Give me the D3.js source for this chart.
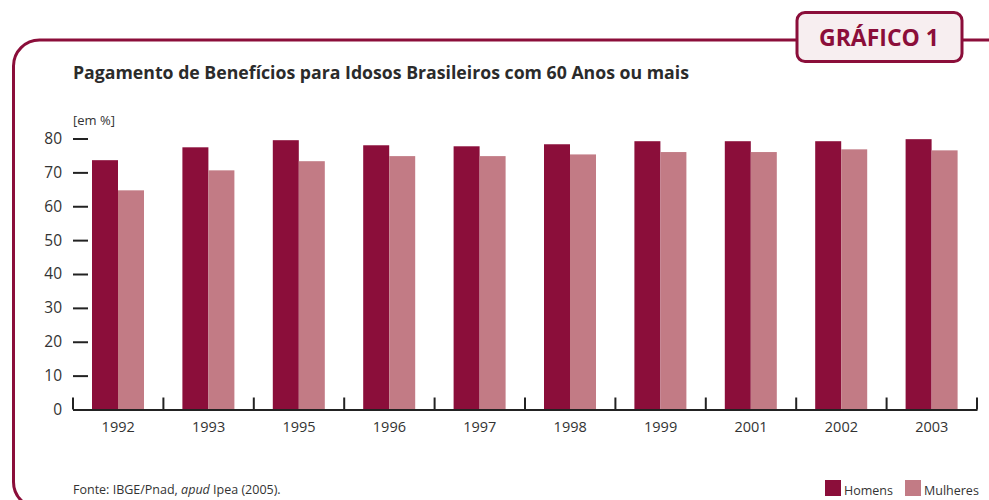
<!DOCTYPE html>
<html>
<head>
<meta charset="utf-8">
<script src="https://cdn.jsdelivr.net/npm/d3@7"></script>
<style>
  body { margin: 0; background: #fff; }
  svg text { font-family: "Open Sans", "Noto Sans", sans-serif; fill: #333; }
</style>
</head>
<body>
<svg id="chart" width="989" height="500"></svg>
<script>
// dados
var anos = ['1992', '1993', '1995', '1996', '1997', '1998', '1999', '2001', '2002', '2003'];
var series = ['Homens', 'Mulheres'];
var homens = [73.6, 77.4, 79.5, 78.0, 77.7, 78.3, 79.2, 79.2, 79.2, 79.8];
var mulheres = [64.7, 70.6, 73.3, 74.8, 74.8, 75.3, 76.0, 76.0, 76.8, 76.5];
var yTicks = [0, 10, 20, 30, 40, 50, 60, 70, 80];

var cores = {Homens: '#8b0e3a', Mulheres: '#c27b85'};
var vinho = '#8b0e3a';

var svg = d3.select('#chart');

// moldura
svg.append('rect')
    .attr('x', 13.5).attr('y', 40)
    .attr('width', 1000).attr('height', 468)
    .attr('rx', 26)
    .attr('fill', 'none')
    .attr('stroke', vinho)
    .attr('stroke-width', 3);

// selo "GRÁFICO 1"
svg.append('rect')
    .attr('x', 797).attr('y', 12.5)
    .attr('width', 165).attr('height', 49)
    .attr('rx', 8)
    .attr('fill', '#f7eef0')
    .attr('stroke', vinho)
    .attr('stroke-width', 3);
svg.append('text')
    .attr('x', 879).attr('y', 46)
    .attr('text-anchor', 'middle')
    .style('font-size', '23px')
    .style('font-weight', 'bold')
    .style('fill', vinho)
    .text('GRÁFICO 1');

svg.append('text')
    .attr('x', 73).attr('y', 79)
    .style('font-size', '17.7px')
    .style('font-weight', 'bold')
    .style('fill', '#2b2b2b')
    .text('Pagamento de Benefícios para Idosos Brasileiros com 60 Anos ou mais');

svg.append('text')
    .attr('x', 73).attr('y', 125)
    .style('font-size', '13px')
    .text('[em %]');

var data = anos.map((a, i) => ({ano: a, Homens: homens[i], Mulheres: mulheres[i]}));

var x = d3.scaleBand().domain(anos).range([73, 977]).padding(0);
var x1 = d3.scaleBand().domain(series).range([19, 71]).padding(0);
var y = d3.scaleLinear().domain([0, 80]).range([409.5, 138.5]);

// barras
var grupos = svg.append('g').selectAll('g')
    .data(data).enter().append('g')
    .attr('transform', d => `translate(${x(d.ano)},0)`);

grupos.selectAll('rect')
    .data(d => series.map(s => ({serie: s, valor: d[s]})))
    .enter().append('rect')
    .attr('x', d => x1(d.serie))
    .attr('y', d => y(d.valor))
    .attr('width', x1.bandwidth())
    .attr('height', d => y(0) - y(d.valor))
    .attr('fill', d => cores[d.serie]);

// eixo y
var gy = svg.append('g')
    .attr('transform', 'translate(88,0)')
    .call(d3.axisLeft(y).tickValues(yTicks).tickSize(15).tickPadding(11));
gy.select('.domain').remove();
gy.selectAll('line').attr('stroke', '#222').attr('stroke-width', 2);
gy.selectAll('text').style('font-size', '15.5px').style('fill', '#333');

// eixo x
var gx = svg.append('g')
    .attr('transform', `translate(0,${y(0)})`)
    .call(d3.axisBottom(x).tickSize(0).tickPadding(12).tickSizeOuter(0));
gx.select('.domain').attr('stroke', '#222').attr('stroke-width', 2);
gx.selectAll('text').style('font-size', '14.5px').style('fill', '#333');

var limites = anos.map(a => x(a)).concat([x.range()[1]]);
gx.selectAll('.limite')
    .data(limites).enter().append('line')
    .attr('class', 'limite')
    .attr('x1', d => d).attr('x2', d => d)
    .attr('y1', 0).attr('y2', -12)
    .attr('stroke', '#222')
    .attr('stroke-width', 2);

// fonte
var fonte = svg.append('text')
    .attr('x', 73).attr('y', 494)
    .style('font-size', '12.5px');
fonte.append('tspan').text('Fonte: IBGE/Pnad, ');
fonte.append('tspan').style('font-style', 'italic').text('apud');
fonte.append('tspan').text(' Ipea (2005).');

// legenda
var legX = [825, 905];
var leg = svg.append('g').selectAll('g')
    .data(series).enter().append('g')
    .attr('transform', (d, i) => `translate(${legX[i]},480)`);
leg.append('rect')
    .attr('width', 16).attr('height', 16)
    .attr('fill', d => cores[d]);
leg.append('text')
    .attr('x', 19).attr('y', 15)
    .style('font-size', '12.5px')
    .text(d => d);
</script>
</body>
</html>
